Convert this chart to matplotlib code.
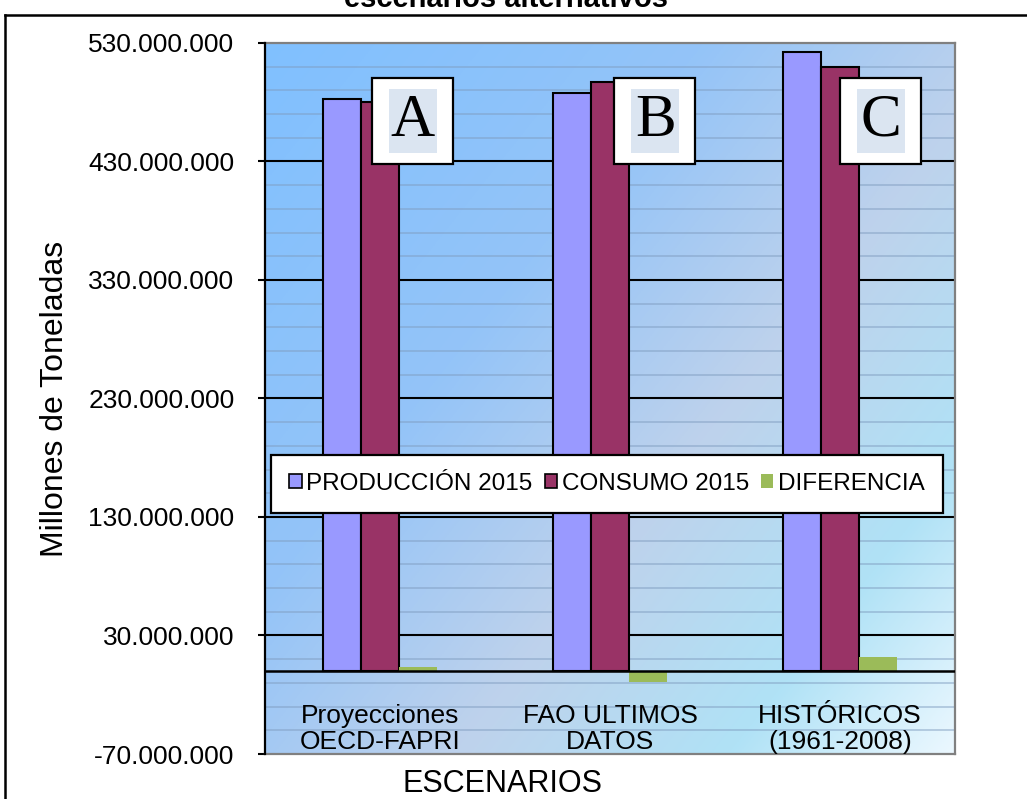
import numpy as np
import matplotlib.pyplot as plt
from matplotlib.patches import Rectangle
from matplotlib.lines import Line2D

plt.rcParams['font.family'] = ['Liberation Sans', 'DejaVu Sans']

# data (toneladas)
escenarios = ['Proyecciones\nOECD-FAPRI', 'FAO ULTIMOS\nDATOS', 'HISTÓRICOS\n(1961-2008)']
produccion = [483e6, 488e6, 522e6]
consumo = [480e6, 497e6, 510e6]
diferencia = [3e6, -9e6, 12e6]
letras = ['A', 'B', 'C']
series_names = ['PRODUCCIÓN 2015', 'CONSUMO 2015', 'DIFERENCIA']
colors = ['#9999ff', '#993366', '#9bbb59']

y_min, y_max = -70e6, 530e6

fig = plt.figure(figsize=(10.27, 7.99), dpi=100)
ax = fig.add_axes([0.258, 0.0563, 0.672, 0.890])

# gradient background of plot area
gx, gy = np.meshgrid(np.linspace(0, 1, 300), np.linspace(0, 1, 300))
t = 0.55 * gx + 0.45 * gy  # 0 top-left -> 1 bottom-right (image origin upper)
stops = [0.0, 0.35, 0.6, 0.82, 1.0]
cols = np.array([[128, 192, 255], [148, 196, 248], [190, 210, 236], [176, 226, 246], [236, 248, 255]]) / 255
img = np.dstack([np.interp(t, stops, cols[:, k]) for k in range(3)])
ax.imshow(img, extent=[0, 1, 0, 1], transform=ax.transAxes, aspect='auto', zorder=0)

# gridlines
for v in np.arange(y_max - 20e6, y_min, -20e6):
    if abs((v - 30e6) % 100e6) < 1:
        ax.axhline(v, color='black', lw=1.5, zorder=1)
    else:
        ax.axhline(v, color='#7f9cbf', lw=1.2, alpha=0.55, zorder=1)

x = np.arange(len(escenarios))
w = 0.165
ax.bar(x - w, produccion, w, color=colors[0], edgecolor='black', lw=1.5, zorder=3, label=series_names[0])
ax.bar(x, consumo, w, color=colors[1], edgecolor='black', lw=1.5, zorder=3, label=series_names[1])
ax.bar(x + w, diferencia, w, color=colors[2], lw=0, zorder=3, label=series_names[2])
ax.axhline(0, color='black', lw=1.8, zorder=4)

ax.set_xlim(-0.5, 2.5)
ax.set_ylim(y_min, y_max)

yt = np.arange(y_min, y_max + 1, 100e6)
ax.set_yticks(yt)
ax.set_yticklabels([f"{int(v):,}".replace(",", ".") for v in yt], fontsize=19)
ax.tick_params(axis='y', length=5, width=1.5, pad=17, direction='out')
ax.set_xticks([])

for s in ['top', 'right', 'bottom']:
    ax.spines[s].set_color('#808080')
    ax.spines[s].set_linewidth(1.6)
ax.spines['left'].set_color('black')
ax.spines['left'].set_linewidth(1.6)
ax.spines['left'].set_zorder(5)

# category labels inside plot area
for xi, lab in zip(x, escenarios):
    ax.text(xi, 0.035, lab, transform=ax.get_xaxis_transform(), ha='center', va='center',
            fontsize=19, linespacing=1.1, zorder=5)

ax.set_ylabel('Millones de Toneladas', fontsize=23)
ax.yaxis.set_label_coords(-0.283, 0.5)
fig.text(0.489, 0.019, 'ESCENARIOS', ha='center', va='center', fontsize=22)

# title (cut at top of the image)
fig.text(0.493, 1 - 7 / 799, 'escenarios alternativos', ha='center', va='baseline',
         fontsize=21, fontweight='bold')

# A / B / C boxes
box_left = [0.155, 0.506, 0.833]
bw, btop, bh = 0.1174, 0.951, 0.121
for bl, letra in zip(box_left, letras):
    ax.add_patch(Rectangle((bl, btop - bh), bw, bh, transform=ax.transAxes,
                           facecolor='white', edgecolor='black', lw=1.6, zorder=6))
    ax.add_patch(Rectangle((bl + 0.0246, btop - 0.0155 - 0.090), 0.0696, 0.090,
                           transform=ax.transAxes, facecolor='#dbe5f1', lw=0, zorder=7))
    ax.text(bl + 0.0246 + 0.0348, btop - 0.0155 - 0.045, letra, transform=ax.transAxes,
            ha='center', va='center', fontsize=44, family='Liberation Serif', zorder=8)

# legend
leg = ax.legend(loc='center', bbox_to_anchor=(0.496, 0.380), ncol=3, fontsize=17.5,
                frameon=True, fancybox=False, edgecolor='black', framealpha=1,
                handlelength=0.5, handleheight=0.5, handletextpad=0.2, columnspacing=0.5,
                borderpad=0.75, borderaxespad=0)
leg.get_frame().set_linewidth(1.6)
leg.set_zorder(9)
for h in leg.legend_handles[:2]:
    h.set_linewidth(1.2)

# outer chart frame
fig.add_artist(Line2D([5 / 1027, 5 / 1027], [0, 1 - 15 / 799], transform=fig.transFigure,
                      color='black', lw=1.8))
fig.add_artist(Line2D([5 / 1027, 1], [1 - 15 / 799, 1 - 15 / 799], transform=fig.transFigure,
                      color='black', lw=1.8))

fig.savefig('out.png', dpi=100)
